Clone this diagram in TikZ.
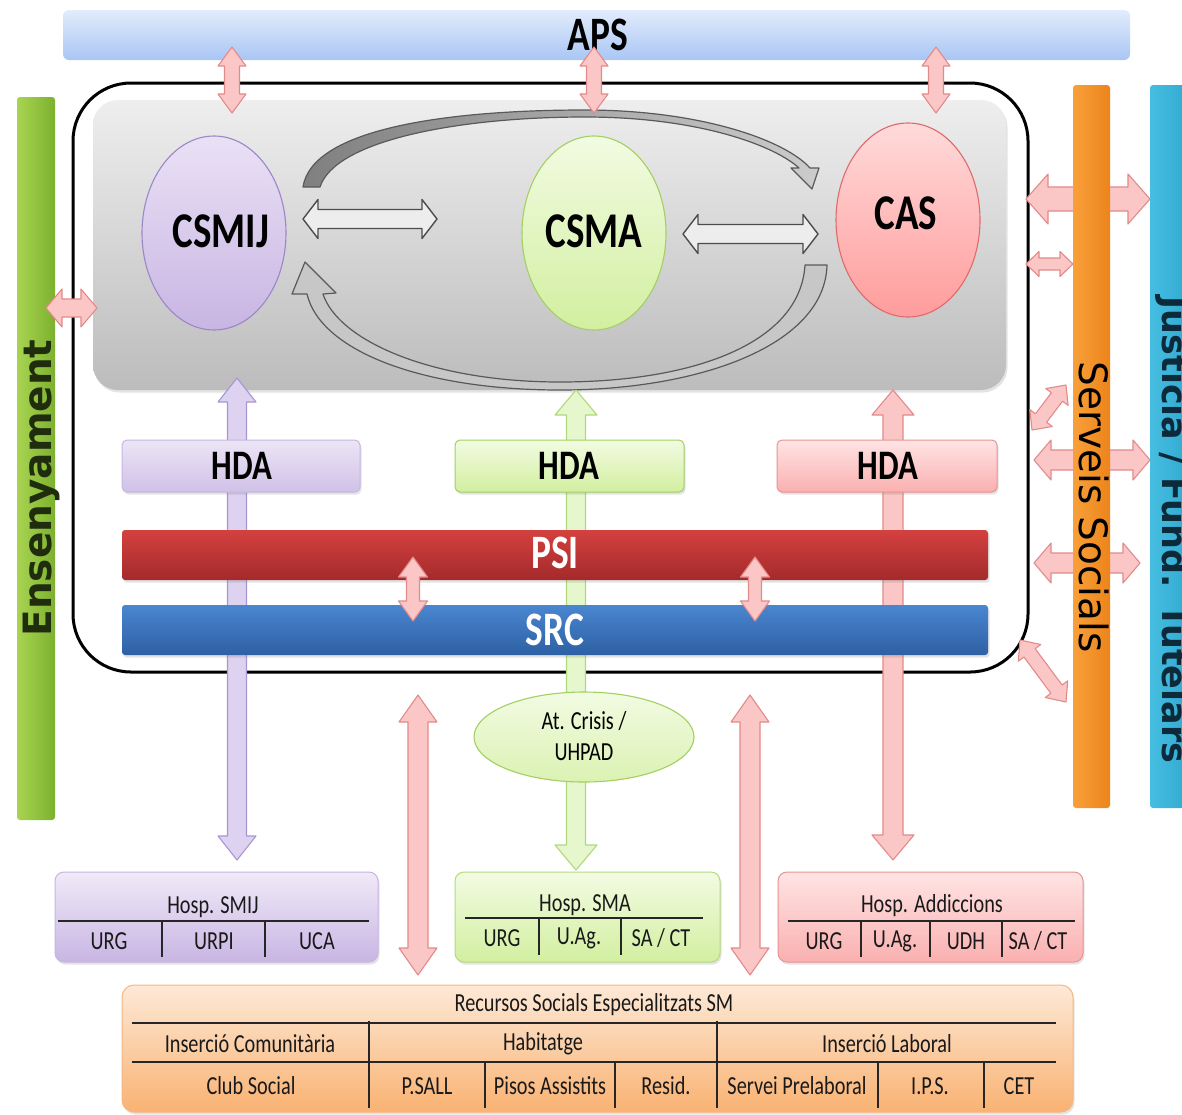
\documentclass[tikz,border=0pt]{standalone}
\usepackage{fontspec}
\setmainfont{Carlito}
\newfontfamily\dejavu{DejaVu Sans}
\usetikzlibrary{shapes.geometric,shadows}
\newcommand\sq[1]{\scalebox{0.78}[1]{#1}}
\newcommand\fs[1]{\fontsize{#1}{#1}\selectfont}
\definecolor{apsT}{HTML}{E2ECFC}\definecolor{apsB}{HTML}{A9C6F4}
\definecolor{boxT}{HTML}{EEEEEE}\definecolor{boxB}{HTML}{BCBCBC}
\definecolor{purT}{HTML}{EAE1F5}\definecolor{purB}{HTML}{C8B5E3}\definecolor{purD}{HTML}{9C86C9}
\definecolor{grnT}{HTML}{F2FBE2}\definecolor{grnB}{HTML}{D2EFA0}\definecolor{grnD}{HTML}{A2D062}
\definecolor{casT}{HTML}{FFDADA}\definecolor{casB}{HTML}{FF9C9C}\definecolor{casD}{HTML}{E06A6A}
\definecolor{psiT}{HTML}{D3413F}\definecolor{psiB}{HTML}{A42A2B}
\definecolor{srcT}{HTML}{4A86D0}\definecolor{srcB}{HTML}{2D60A3}
\definecolor{ensL}{HTML}{A8D451}\definecolor{ensR}{HTML}{7CB02E}\definecolor{ensTx}{HTML}{1F2D0E}
\definecolor{orL}{HTML}{F9A03A}\definecolor{orR}{HTML}{EC841B}
\definecolor{cyL}{HTML}{46BEE2}\definecolor{cyR}{HTML}{2FA6CC}\definecolor{cyTx}{HTML}{0D2A3A}
\definecolor{pinkF}{HTML}{FBC6C6}\definecolor{pinkD}{HTML}{E38A8A}
\definecolor{purAF}{HTML}{DDD2EF}\definecolor{purAD}{HTML}{A995D3}
\definecolor{grnAF}{HTML}{E6F7CD}\definecolor{grnAD}{HTML}{AFD97A}
\definecolor{hdaPT}{HTML}{ECE5F6}\definecolor{hdaPB}{HTML}{D0C1E7}\definecolor{hdaPD}{HTML}{C6B6E2}
\definecolor{hdaRT}{HTML}{FFE4E4}\definecolor{hdaRB}{HTML}{FAB0B0}\definecolor{hdaRD}{HTML}{E99393}
\definecolor{recT}{HTML}{FDE9D7}\definecolor{recB}{HTML}{F9B272}\definecolor{recD}{HTML}{F5B784}
\definecolor{hollowF}{HTML}{EDEDED}
% block double arrow between two named points
\newcommand\barrow[6]{%
  \path (#2); \pgfgetlastxy{\BAxa}{\BAya}%
  \path (#3); \pgfgetlastxy{\BAxb}{\BAyb}%
  \pgfmathsetmacro\BAang{atan2(\BAyb-\BAya,\BAxb-\BAxa)}%
  \pgfmathsetmacro\BAlen{veclen(\BAxb-\BAxa,\BAyb-\BAya)}%
  \pgfmathsetmacro\BAm{\BAlen-#6}%
  \begin{scope}[shift={(\BAxa,\BAya)}, rotate=\BAang]
    \path[#1] (0pt,0pt) -- (#6pt,#5pt) -- (#6pt,#4pt) -- (\BAm pt,#4pt) -- (\BAm pt,#5pt)
      -- (\BAlen pt,0pt) -- (\BAm pt,-#5pt) -- (\BAm pt,-#4pt) -- (#6pt,-#4pt) -- (#6pt,-#5pt) -- cycle;
  \end{scope}}
\begin{document}
\begin{tikzpicture}[x=1pt,y=-1pt,
  lbl/.style={inner sep=0pt, text=black},
  pinkA/.style={fill=pinkF, draw=pinkD, line width=1.1pt, line join=round},
  purA/.style={fill=purAF, draw=purAD, line width=1.1pt, line join=round},
  grnA/.style={fill=grnAF, draw=grnAD, line width=1.1pt, line join=round},
  hollowA/.style={fill=hollowF, draw=black!70, line width=1.4pt, line join=round},
  curveA/.style={draw=black!65, line width=1.2pt, line join=round},
  shad/.style={drop shadow={opacity=0.22, shadow xshift=1.5pt, shadow yshift=-2.5pt}},
  bar/.style={inner sep=0pt, minimum height=50pt, rounded corners=3pt},
  hda/.style={inner sep=0pt, minimum width=#1, minimum height=52pt, rounded corners=5pt, line width=1pt, shad},
  hosp/.style={inner sep=0pt, minimum height=90pt, rounded corners=9pt, line width=1pt, shad},
  tline/.style={line width=1.8pt, draw=black!85},
  cell/.style={inner sep=0pt, text=black!90},
  ell/.style={ellipse, inner sep=0pt, minimum width=144pt, minimum height=194pt, line width=1.1pt}]
\useasboundingbox (0,0) rectangle (1182,1114);
\fill[white] (0,0) rectangle (1182,1114);

% ---- side bars and APS
\node (ens) [inner sep=0pt, minimum width=38pt, minimum height=723pt, left color=ensL, right color=ensR, rounded corners=3pt] at (36,458.5) {};
\node (aps) [bar, minimum width=1067pt, top color=apsT, bottom color=apsB, rounded corners=6pt] at (596.5,35) {};
\node (apsT) [lbl] at (598,35) {\fs{48}\bfseries\sq{APS}};

% ---- core box and frame
\node (core) [inner sep=0pt, minimum width=913pt, minimum height=290pt, rounded corners=25pt, top color=boxT, bottom color=boxB, shad] at (549.5,245) {};
\node (frame) [draw=black, line width=3pt, rounded corners=58pt, inner sep=0pt, minimum width=955pt, minimum height=589pt] at (550.5,377.5) {};

% ---- curved gray arrows
\path[curveA, left color=black!50, right color=black!20]
  (303,187) .. controls (312,128) and (450,110) .. (585,110) .. controls (700,110) and (785,140) .. (810,168)
  -- (819,168) -- (812,189) -- (791,168) -- (799,168)
  .. controls (775,146) and (700,117) .. (585,117) .. controls (460,117) and (335,140) .. (320,187) -- cycle;
\path[curveA, fill=black!22]
  (827,265) .. controls (825,345) and (700,390) .. (560,390) .. controls (420,390) and (320,350) .. (307,294)
  -- (292,294) -- (305,262) -- (336,293) -- (323,294)
  .. controls (338,340) and (430,382) .. (560,382) .. controls (690,382) and (800,345) .. (805,265) -- cycle;

% ---- main ellipses
\node (csmij) [ell, top color=purT, bottom color=purB, draw=purD] at (214,233) {};
\node (csma) [ell, top color=grnT, bottom color=grnB, draw=grnD] at (594,233) {};
\node (cas) [ell, top color=casT, bottom color=casB, draw=casD] at (908,220) {};
\node (csmijT) [lbl] at (221,231) {\fs{50}\bfseries\sq{CSMIJ}};
\node (csmaT) [lbl] at (594,231) {\fs{50}\bfseries\sq{CSMA}};
\node (casT) [lbl] at (906,213) {\fs{50}\bfseries\sq{CAS}};

% hollow arrows
\coordinate (h1a) at (303,219); \coordinate (h1b) at (437,219);
\coordinate (h2a) at (683,234); \coordinate (h2b) at (818,234);
\barrow{hollowA}{h1a}{h1b}{9.5}{19.5}{15}
\barrow{hollowA}{h2a}{h2b}{9.5}{19.5}{15}

% ---- APS arrows
\coordinate (p1a) at (232,47); \coordinate (p1b) at (232,113);
\coordinate (p2a) at (594,47); \coordinate (p2b) at (594,113);
\coordinate (p3a) at (936,47); \coordinate (p3b) at (936,113);
\barrow{pinkA}{p1a}{p1b}{7.5}{14}{19}
\barrow{pinkA}{p2a}{p2b}{7.5}{14}{19}
\barrow{pinkA}{p3a}{p3b}{7.5}{14}{19}
% Ensenyament arrow
\coordinate (e1a) at (46,308); \coordinate (e1b) at (97,308);
\barrow{pinkA}{e1a}{e1b}{9}{19}{16}
\node (ensT) [lbl, rotate=90, text=ensTx] at (41,488) {\dejavu\bfseries\fs{39}Ensenyament};

% ---- right side arrows
\coordinate (r1a) at (1026,199); \coordinate (r1b) at (1150,199);
\coordinate (r2a) at (1026,264); \coordinate (r2b) at (1073,264);
\coordinate (r3a) at (1032,430); \coordinate (r3b) at (1066,385);
\coordinate (r4a) at (1034,460); \coordinate (r4b) at (1150,460);
\coordinate (r5a) at (1034,563); \coordinate (r5b) at (1140,563);
\coordinate (r6a) at (1020,640); \coordinate (r6b) at (1066,702);
\barrow{pinkA}{r1a}{r1b}{12}{25}{22}
\barrow{pinkA}{r2a}{r2b}{6}{12.5}{13}
\barrow{pinkA}{r3a}{r3b}{7}{14}{15}
\barrow{pinkA}{r4a}{r4b}{10}{20}{17}
\barrow{pinkA}{r5a}{r5b}{10}{20}{17}
\barrow{pinkA}{r6a}{r6b}{7}{14}{16}

\node (ss) [inner sep=0pt, minimum width=37pt, minimum height=723pt, left color=orL, right color=orR, rounded corners=3pt] at (1091.5,446.5) {};
\node (ssT) [lbl, rotate=-90, text=black] at (1094,507) {\dejavu\fs{39}Serveis Socials};
\node (jus) [inner sep=0pt, minimum width=44pt, minimum height=723pt, left color=cyL, right color=cyR, rounded corners=3pt] at (1172,446.5) {};
\node (jusT) [lbl, rotate=-90, text=cyTx] at (1172,530) {\dejavu\bfseries\fs{35}Justicia / Fund. Tutelars};

% ---- long vertical arrows
\coordinate (v1a) at (237,378); \coordinate (v1b) at (237,860);
\coordinate (v2a) at (576,390); \coordinate (v2b) at (576,870);
\coordinate (v3a) at (893,390); \coordinate (v3b) at (893,860);
\barrow{purA}{v1a}{v1b}{9.5}{19}{24}
\barrow{grnA}{v2a}{v2b}{9.5}{21}{25}
\barrow{pinkA}{v3a}{v3b}{10}{21}{25}

% ---- HDA boxes
\node (hda1) [hda=238pt, top color=hdaPT, bottom color=hdaPB, draw=hdaPD] at (241,466) {};
\node (hda2) [hda=229pt, top color=grnT, bottom color=grnB, draw=grnD] at (569.5,466) {};
\node (hda3) [hda=220pt, top color=hdaRT, bottom color=hdaRB, draw=hdaRD] at (887,466) {};
\node (hda1T) [lbl] at (242,466) {\fs{42}\bfseries\sq{HDA}};
\node (hda2T) [lbl] at (569,466) {\fs{42}\bfseries\sq{HDA}};
\node (hda3T) [lbl] at (888,466) {\fs{42}\bfseries\sq{HDA}};

% ---- PSI / SRC
\node (psi) [bar, minimum width=866pt, top color=psiT, bottom color=psiB, shad] at (555,555) {};
\node (src) [bar, minimum width=866pt, top color=srcT, bottom color=srcB, shad] at (555,630) {};
\node (psiT) [lbl, text=white] at (555,553) {\fs{48}\bfseries\sq{PSI}};
\node (srcT) [lbl, text=white] at (555,630) {\fs{48}\bfseries\sq{SRC}};
\coordinate (ps1a) at (413,557); \coordinate (ps1b) at (413,621);
\coordinate (ps2a) at (755,557); \coordinate (ps2b) at (755,621);
\barrow{pinkA}{ps1a}{ps1b}{6.5}{14.5}{20}
\barrow{pinkA}{ps2a}{ps2b}{6.5}{14.5}{20}

% ---- crisis ellipse
\node (crisis) [ellipse, inner sep=0pt, minimum width=220pt, minimum height=90pt, top color=grnT, bottom color=grnB!80, draw=grnD, line width=1.1pt] at (584,737) {};
\node (crisisT) [lbl, align=center, font=\fontsize{26}{31}\selectfont] at (584,736) {\sq{At. Crisis /}\\\sq{UHPAD}};

% ---- outside pink long arrows
\coordinate (o1a) at (418,695); \coordinate (o1b) at (418,975);
\coordinate (o2a) at (750,695); \coordinate (o2b) at (750,975);
\barrow{pinkA}{o1a}{o1b}{10}{19}{27}
\barrow{pinkA}{o2a}{o2b}{10}{19}{27}

% ---- Hosp SMIJ
\node (hsmij) [hosp, minimum width=323pt, top color=purT!70, bottom color=purB, draw=purB] at (216.5,917) {};
\node [cell] at (213,907) {\fs{26}\sq{Hosp. SMIJ}};
\draw[tline] (58,921) -- (369,921);
\draw[tline] (162,921) -- (162,957) (265,921) -- (265,957);
\node [cell] at (109,941) {\fs{26}\sq{URG}};
\node [cell] at (214,941) {\fs{26}\sq{URPI}};
\node [cell] at (317,941) {\fs{26}\sq{UCA}};

% ---- Hosp SMA
\node (hsma) [hosp, minimum width=265pt, top color=grnT, bottom color=grnB, draw=grnD!80] at (587.5,917) {};
\node [cell] at (585,905) {\fs{26}\sq{Hosp. SMA}};
\draw[tline] (465,918) -- (703,918);
\draw[tline] (539,918) -- (539,955) (621,918) -- (621,955);
\node [cell] at (502,938) {\fs{26}\sq{URG}};
\node [cell] at (579,938) {\fs{26}\sq{U.Ag.}};
\node [cell] at (661,938) {\fs{26}\sq{SA / CT}};

% ---- Hosp Addiccions
\node (hadd) [hosp, minimum width=305pt, top color=hdaRT, bottom color=hdaRB, draw=hdaRD] at (930.5,917) {};
\node [cell] at (932,906) {\fs{26}\sq{Hosp. Addiccions}};
\draw[tline] (788,921) -- (1075,921);
\draw[tline] (861,921) -- (861,957) (930,921) -- (930,957) (1002,921) -- (1002,957);
\node [cell] at (824,941) {\fs{26}\sq{URG}};
\node [cell] at (895,941) {\fs{26}\sq{U.Ag.}};
\node [cell] at (966,941) {\fs{26}\sq{UDH}};
\node [cell] at (1038,941) {\fs{26}\sq{SA / CT}};

% ---- Recursos Socials
\node (rec) [inner sep=0pt, minimum width=951pt, minimum height=127pt, rounded corners=12pt, top color=recT, bottom color=recB, draw=recD, line width=1pt, shad] at (597.5,1048.5) {};
\node [cell] at (594,1005) {\fs{26}\sq{Recursos Socials Especialitzats SM}};
\draw[tline] (132,1023) -- (1056,1023);
\draw[tline] (132,1062) -- (1056,1062);
\draw[tline] (369,1021) -- (369,1108) (717,1021) -- (717,1108);
\draw[tline] (485,1062) -- (485,1108) (615,1062) -- (615,1108) (878,1062) -- (878,1108) (984,1062) -- (984,1108);
\node [cell] at (250,1044) {\fs{26}\sq{Inserció Comunitària}};
\node [cell] at (543,1044) {\fs{26}\sq{Habitatge}};
\node [cell] at (887,1044) {\fs{26}\sq{Inserció Laboral}};
\node [cell] at (251,1086) {\fs{26}\sq{Club Social}};
\node [cell] at (427,1086) {\fs{26}\sq{P.SALL}};
\node [cell] at (550,1086) {\fs{26}\sq{Pisos Assistits}};
\node [cell] at (666,1086) {\fs{26}\sq{Resid.}};
\node [cell] at (797,1086) {\fs{26}\sq{Servei Prelaboral}};
\node [cell] at (930,1086) {\fs{26}\sq{I.P.S.}};
\node [cell] at (1019,1086) {\fs{26}\sq{CET}};
\end{tikzpicture}
\end{document}
